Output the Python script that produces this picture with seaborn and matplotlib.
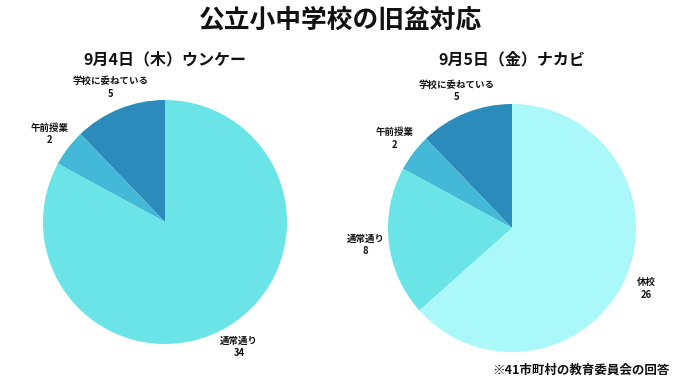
import matplotlib
matplotlib.use('Agg')
import matplotlib.pyplot as plt
import seaborn as sns

# data
left_labels = ['学校に委ねている', '午前授業', '通常通り']
left_values = [5, 2, 34]
left_colors = ['#2b8bbb', '#44b8d7', '#6ae4e6']

right_labels = ['学校に委ねている', '午前授業', '通常通り', '休校']
right_values = [5, 2, 8, 26]
right_colors = ['#2b8bbb', '#44b8d7', '#6ae4e6', '#abf8fa']

title = '公立小中学校の旧盆対応'
left_title = '9月4日（木）ウンケー'
right_title = '9月5日（金）ナカビ'
note = '※41市町村の教育委員会の回答'

sns.set_theme(style='white')
plt.rcParams['font.family'] = ['Noto Sans CJK JP', 'DejaVu Sans']

W, H = 680, 382
fig = plt.figure(figsize=(W / 100, H / 100), dpi=100)
fig.patch.set_facecolor('white')


def draw_pie(cx, cy, r, labels, values, colors, sub):
    ax = fig.add_axes([(cx - r) / W, (H - cy - r) / H, 2 * r / W, 2 * r / H])
    texts = [f'{l}\n{v}' for l, v in zip(labels, values)]
    wedges, lbls = ax.pie(values, colors=colors, labels=texts, startangle=90,
                          counterclock=True, labeldistance=1.19,
                          wedgeprops=dict(linewidth=0),
                          textprops=dict(fontsize=6.8, fontweight='bold', color='#111111'))
    for t in lbls:
        t.set_ha('center')
        t.set_va('center')
        t.set_multialignment('center')
        t.set_linespacing(1.3)
    ax.set_xlim(-1, 1)
    ax.set_ylim(-1, 1)
    ax.set_aspect('equal')
    ax.set_axis_off()
    fig.text(cx / W, 1 - 59 / H, sub, ha='center', va='center',
             fontsize=11.5, fontweight='bold', color='#111111')


draw_pie(165, 222, 122, left_labels, left_values, left_colors, left_title)
draw_pie(512, 228, 124, right_labels, right_values, right_colors, right_title)

fig.text(0.5, 1 - 20 / H, title, ha='center', va='center',
         fontsize=18.5, fontweight='bold', color='#111111')
fig.text(670 / W, 1 - 370 / H, note, ha='right', va='center',
         fontsize=9, fontweight='bold', color='#111111')

plt.savefig('out.png', dpi=100)
plt.close()
